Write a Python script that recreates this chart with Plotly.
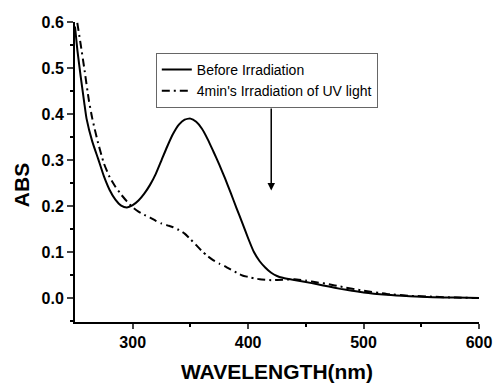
import plotly.graph_objects as go

wl_before = [250, 252, 255, 258, 260, 265, 270, 275, 280, 285, 290, 295, 300, 305, 310, 315, 320, 325, 330, 335,
             340, 345, 350, 355, 360, 365, 370, 375, 380, 385, 390, 395, 400, 405, 410, 415, 420, 425, 430,
             440, 450, 460, 470, 480, 490, 500, 520, 540, 560, 580, 600]
abs_before = [0.59, 0.54, 0.48, 0.425, 0.39, 0.34, 0.303, 0.265, 0.235, 0.214, 0.201, 0.197, 0.202, 0.212,
              0.227, 0.246, 0.270, 0.300, 0.330, 0.357, 0.377, 0.388, 0.390, 0.383, 0.368, 0.345, 0.318,
              0.290, 0.260, 0.228, 0.195, 0.163, 0.130, 0.100, 0.080, 0.066, 0.055, 0.048, 0.044, 0.039,
              0.035, 0.030, 0.025, 0.020, 0.016, 0.012, 0.007, 0.004, 0.002, 0.001, 0.0]

wl_after = [252, 255, 258, 262, 265, 270, 275, 280, 285, 290, 295, 300, 305, 310, 315, 320, 325, 330, 335, 340,
            345, 350, 355, 360, 365, 370, 375, 380, 385, 390, 395, 400, 405, 410, 420, 430, 440, 450, 460,
            470, 480, 500, 520, 540, 560, 580, 600]
abs_after = [0.598, 0.55, 0.50, 0.43, 0.39, 0.337, 0.293, 0.263, 0.242, 0.225, 0.210, 0.197, 0.188, 0.181,
             0.175, 0.168, 0.162, 0.158, 0.154, 0.148, 0.140, 0.128, 0.115, 0.102, 0.091, 0.082, 0.075,
             0.069, 0.062, 0.055, 0.049, 0.046, 0.043, 0.041, 0.039, 0.040, 0.041, 0.038, 0.034, 0.030,
             0.025, 0.016, 0.009, 0.005, 0.003, 0.001, 0.0]

name_before = "Before Irradiation"
name_after = "4min's Irradiation of UV light"

fig = go.Figure()
fig.add_trace(go.Scatter(x=wl_before, y=abs_before, mode="lines", name=name_before,
                         line=dict(color="black", width=2, shape="spline", smoothing=0.5)))
fig.add_trace(go.Scatter(x=wl_after, y=abs_after, mode="lines", name=name_after,
                         line=dict(color="black", width=2, dash="8px,4px,2px,4px", shape="spline", smoothing=0.5)))

fig.add_annotation(x=420, y=0.234, ax=420, ay=0.415, xref="x", yref="y", axref="x", ayref="y",
                   showarrow=True, arrowhead=2, arrowsize=1, arrowwidth=1.5, arrowcolor="black", text="")

titlefont = dict(family="Arial", size=21, color="black", weight="bold")
fig.add_annotation(text="ABS", xref="paper", yref="paper", x=-0.132, y=0.455, xanchor="center",
                   yanchor="middle", textangle=-90, showarrow=False, font=titlefont)

tickfont = dict(family="Arial", size=16, color="black", weight="bold")
fig.update_layout(
    width=493, height=385,
    margin=dict(l=75, r=14, t=22, b=63),
    plot_bgcolor="white", paper_bgcolor="white",
    showlegend=True,
    legend=dict(x=0.2, y=0.897, xanchor="left", yanchor="top",
                bordercolor="#666666", borderwidth=1, bgcolor="white", tracegroupgap=0,
                font=dict(family="Arial", size=14, color="black"), itemwidth=30),
    xaxis=dict(range=[250, 600], tickvals=[300, 400, 500, 600], ticks="outside", ticklen=5, tickwidth=2,
               showline=True, linewidth=2, linecolor="black", showgrid=False, zeroline=False,
               tickfont=tickfont, automargin=False,
               minor=dict(tickvals=[350, 450, 550], ticks="outside", ticklen=3, tickwidth=2, tickcolor="black"),
               title=dict(text="WAVELENGTH(nm)", font=titlefont, standoff=14)),
    yaxis=dict(range=[-0.052, 0.6], tickvals=[0.0, 0.1, 0.2, 0.3, 0.4, 0.5, 0.6], tickformat=".1f",
               ticks="outside", ticklen=6, tickwidth=2,
               showline=True, linewidth=2, linecolor="black", showgrid=False, zeroline=False,
               tickfont=tickfont, automargin=False,
               minor=dict(tickvals=[-0.05, 0.05, 0.15, 0.25, 0.35, 0.45, 0.55], ticks="outside", ticklen=3,
                          tickwidth=2, tickcolor="black")),
)

fig.write_html("out.html")
